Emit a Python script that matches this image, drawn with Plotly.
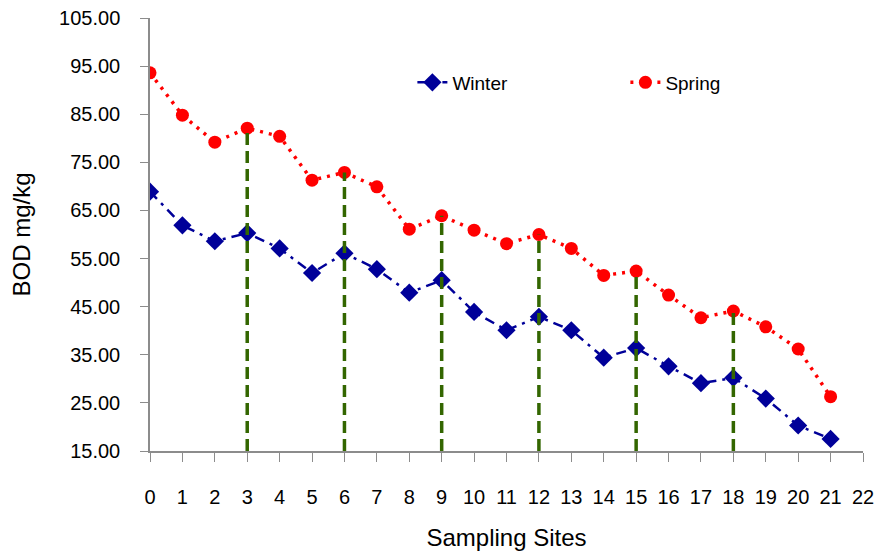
import plotly.graph_objects as go

sites = list(range(22))
winter = [68.9, 61.9, 58.6, 60.3, 57.1, 52.0, 56.1, 52.8, 47.9, 50.5, 43.9,
          40.1, 42.9, 40.1, 34.4, 36.4, 32.6, 29.1, 30.2, 25.9, 20.3, 17.5]
spring = [93.6, 84.8, 79.2, 82.1, 80.4, 71.3, 72.9, 69.9, 61.1, 63.9, 60.9,
          58.1, 60.0, 57.1, 51.5, 52.4, 47.4, 42.7, 44.1, 40.8, 36.2, 26.3]
drop_sites = [3, 6, 9, 12, 15, 18]
y_min, y_max = 15, 105

font = "Liberation Sans, Arial, sans-serif"

# vertical drop lines from axis to spring value
dx, dy = [], []
for s in drop_sites:
    dx += [s, s, None]
    dy += [y_min, spring[s], None]

fig = go.Figure()
fig.add_trace(go.Scatter(x=sites, y=winter, name="Winter", mode="lines+markers",
                         line=dict(color="#000099", width=2.5, dash="10px,6px,3px,6px"),
                         marker=dict(symbol="diamond", size=14, color="#000099")))
fig.add_trace(go.Scatter(x=sites, y=spring, name="Spring", mode="lines+markers",
                         line=dict(color="#ff0000", width=3.5, dash="3px,6px"),
                         marker=dict(symbol="circle", size=13, color="#ff0000")))
fig.add_trace(go.Scatter(x=dx, y=dy, mode="lines", showlegend=False, hoverinfo="skip",
                         line=dict(color="#336600", width=3.5, dash="12px,6px")))

# page body has an 8px margin, so the figure is a bit smaller than the window
fig.update_layout(
    width=880, height=543,
    margin=dict(l=142, r=25, t=9.5, b=100),
    plot_bgcolor="white", paper_bgcolor="white",
    font=dict(family=font, size=20, color="black"),
    legend=dict(orientation="h", x=0.368, y=0.851, xanchor="left", yanchor="middle",
                entrywidth=168, font=dict(size=19), bgcolor="rgba(0,0,0,0)"),
)
fig.update_xaxes(range=[0, 22], tickmode="linear", tick0=0, dtick=1, automargin=False,
                 showgrid=False, zeroline=False, showline=True, linecolor="#8c8c8c",
                 linewidth=1.5, ticks="outside", ticklen=9, tickcolor="#8c8c8c",
                 ticklabelstandoff=18, title=dict(text="Sampling Sites", standoff=22))
fig.update_yaxes(range=[y_min, y_max], tickmode="linear", tick0=15, dtick=10,
                 tickformat=".2f", showgrid=False, zeroline=False, showline=True,
                 automargin=False, ticklabeloverflow="allow",
                 linecolor="#8c8c8c", linewidth=1.5, ticks="outside", ticklen=8,
                 tickcolor="#8c8c8c", ticklabelstandoff=16,
                 title=dict(text="BOD mg/kg", standoff=33))

fig.write_html("out.html")
